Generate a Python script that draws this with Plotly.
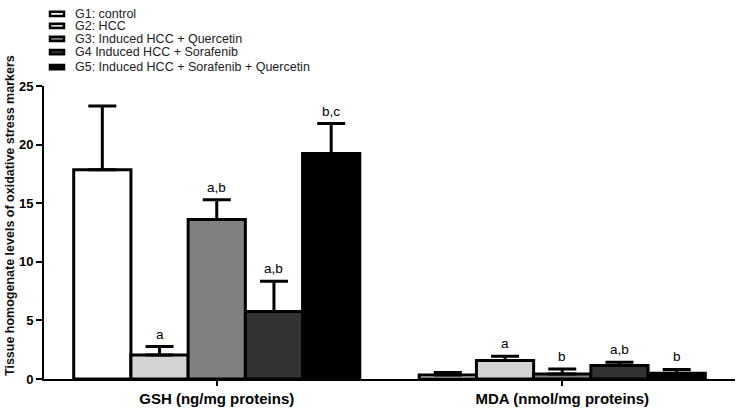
import plotly.graph_objects as go

categories = ["GSH (ng/mg proteins)", "MDA (nmol/mg proteins)"]
groups = ["G1: control", "G2: HCC", "G3: Induced HCC + Quercetin",
          "G4 Induced HCC + Sorafenib", "G5: Induced HCC + Sorafenib + Quercetin"]
colors = ["#ffffff", "#d4d4d4", "#808080", "#333333", "#000000"]

means = [
    [17.85, 0.35],
    [2.05, 1.57],
    [13.6, 0.42],
    [5.75, 1.15],
    [19.25, 0.5],
]
errors = [
    [5.45, 0.2],
    [0.72, 0.38],
    [1.7, 0.43],
    [2.6, 0.27],
    [2.55, 0.32],
]
letters = [
    ["", ""],
    ["a", "a"],
    ["a,b", "b"],
    ["a,b", "a,b"],
    ["b,c", "b"],
]

FONT = "Arial, Liberation Sans, Helvetica, sans-serif"
BARGAP = 0.172
n = len(groups)

fig = go.Figure()
for i, g in enumerate(groups):
    fig.add_trace(go.Bar(
        name=g, x=categories, y=means[i],
        marker=dict(color=colors[i], line=dict(color="black", width=3)),
        error_y=dict(type="data", symmetric=False, array=errors[i],
                     arrayminus=[0, 0], color="black", thickness=3, width=14),
        showlegend=False,
    ))

annotations = []
slot = (1 - BARGAP) / n
for i in range(n):
    for j in range(len(categories)):
        if letters[i][j]:
            annotations.append(dict(
                x=j + (i - (n - 1) / 2) * slot, y=means[i][j] + errors[i][j],
                xref="x", yref="y", text=letters[i][j], showarrow=False,
                yanchor="bottom", yshift=3,
                font=dict(family=FONT, size=13.5, color="black")))

# custom legend (compact, like the reference)
legend_top_px = [11.7, 24.0, 37.5, 51.0, 66.5]
plot_top, plot_bottom, plot_left, plot_w = 86, 388, 44, 691
shapes = []
for i, g in enumerate(groups):
    yc = 1 + (plot_top - legend_top_px[i]) / (plot_bottom - plot_top)
    h = 2.2 / (plot_bottom - plot_top)
    shapes.append(dict(type="rect", xref="paper", yref="paper",
                       x0=(50 - plot_left) / plot_w, x1=(64 - plot_left) / plot_w,
                       y0=yc - h, y1=yc + h,
                       fillcolor=colors[i], line=dict(color="black", width=2.5)))
    annotations.append(dict(x=(74 - plot_left) / plot_w, y=yc, xref="paper", yref="paper",
                            text=g, showarrow=False, xanchor="left", yanchor="middle",
                            borderpad=0,
                            font=dict(family=FONT, size=12.5, color="#222222")))

annotations.append(dict(x=(10 - plot_left) / plot_w, y=(plot_bottom - 220) / (plot_bottom - plot_top),
                        xref="paper", yref="paper", textangle=-90, showarrow=False,
                        xanchor="center", yanchor="middle",
                        text="<b>Tissue homogenate levels of oxidative stress markers</b>",
                        font=dict(family=FONT, size=12.5, color="#111111")))

fig.update_layout(
    width=744, height=416,
    margin=dict(l=44, r=9, t=86, b=28),
    paper_bgcolor="white", plot_bgcolor="white",
    barmode="group", bargap=BARGAP, bargroupgap=0,
    font=dict(family=FONT, color="black"),
    annotations=annotations, shapes=shapes,
    xaxis=dict(showline=True, linecolor="black", linewidth=2, ticks="outside",
               ticklen=5, tickwidth=2, tickcolor="black", showgrid=False,
               tickfont=dict(family=FONT, size=15, color="black", weight="bold")),
    yaxis=dict(range=[0, 25], tickvals=[0, 5, 10, 15, 20, 25], showline=True,
               linecolor="black", linewidth=2, ticks="outside", ticklen=6,
               tickwidth=2, tickcolor="black", showgrid=False, zeroline=False,
               tickfont=dict(family=FONT, size=13, color="black", weight="bold")),
)

fig.write_html("out.html", config={"displayModeBar": False},
               post_script="document.body.style.margin='0';")
